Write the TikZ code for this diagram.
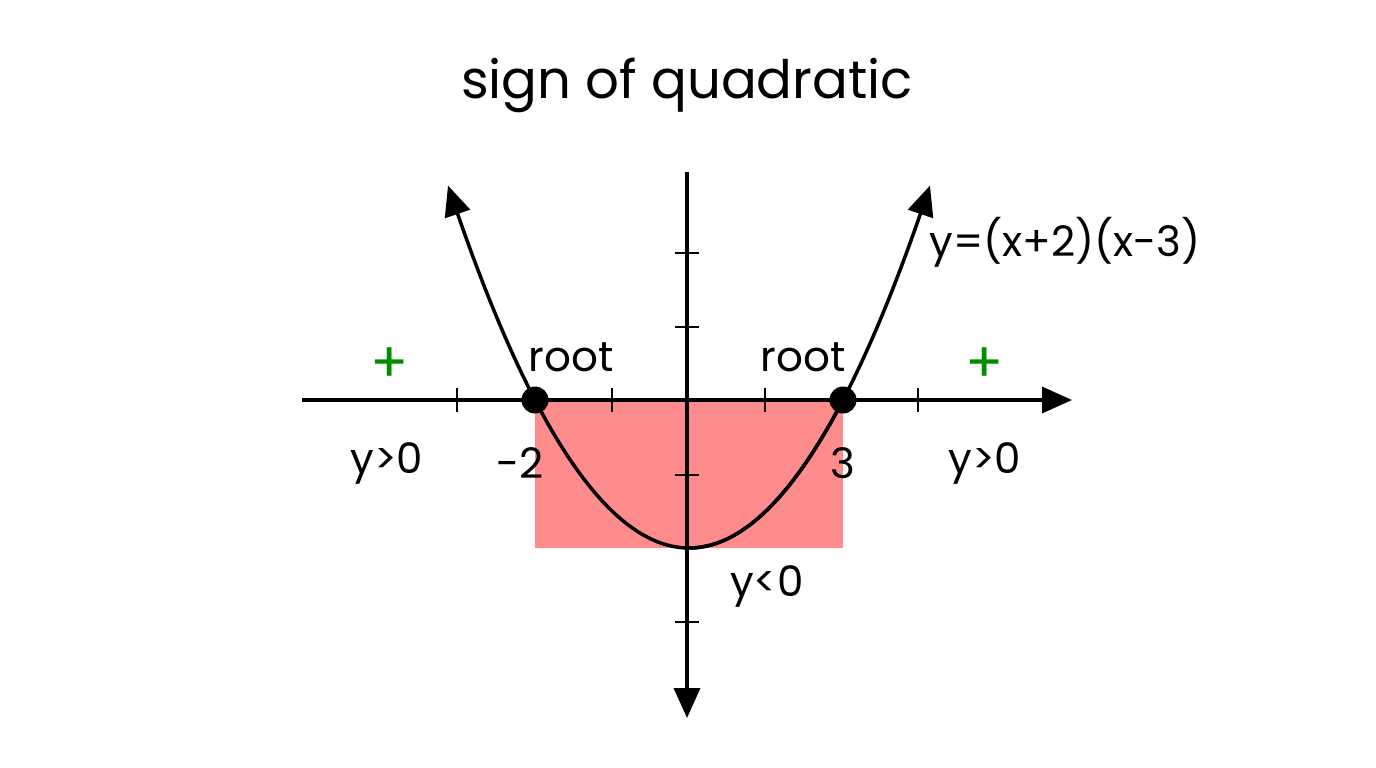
\documentclass[tikz,border=0pt]{standalone}
\usepackage{fontspec}
\setmainfont{Poppins}
\usetikzlibrary{arrows.meta}
\begin{document}
\begin{tikzpicture}[x=1pt,y=-1pt,
    lbl/.style={font=\fontsize{42}{46}\selectfont\mdseries},
    plus/.style={font=\fontsize{56}{56}\selectfont, text=green!55!black},
    dot/.style={circle,fill=black,inner sep=0pt,minimum size=27pt},
    axis/.style={line width=3.5pt,-{Triangle[length=30pt,width=26pt]}}]

            \useasboundingbox (0,0) rectangle (1376,768);
            %\draw [help lines] (0,0) grid (1376,768);

            \fill[red!45] (535,400) rectangle (843,548);

            \path   (302,400) coordinate (xl)
                    (1072,400) coordinate (xr)
                    (687,172) coordinate (yt)
                    (687,718) coordinate (yb);
            \draw[axis] (xl) -- (xr);
            \draw[axis] (yt) -- (yb);

            \foreach \t in {457,612,765,918}
                \draw[line width=2pt] (\t,388) -- (\t,412);
            \foreach \t in {253,327,475,622}
                \draw[line width=2pt] (675,\t) -- (699,\t);

            \draw[line width=3.5pt,domain=448:842,samples=80,
                  {Triangle[length=30pt,width=26pt]}-]
                plot ({\x},{400-0.00624*(\x-535)*(\x-843)});
            \draw[line width=3.5pt,domain=690:930,samples=60,
                  -{Triangle[length=30pt,width=26pt]}]
                plot ({\x},{400-0.00624*(\x-535)*(\x-843)});

            \node (rootL) [dot] at (535,400) {};
            \node (rootR) [dot] at (843,400) {};

            \node (title) [font=\fontsize{53}{58}\selectfont] at (687,85) {sign of quadratic};
            \node (rl) [lbl] at (571,357) {root};
            \node (rr) [lbl] at (803,357) {root};
            \node (pl) [plus] at (390,365) {+};
            \node (pr) [plus] at (985,365) {+};
            \node (gl) [lbl] at (387,463) {y>0};
            \node (gr) [lbl] at (985,463) {y>0};
            \node (m2) [lbl] at (520,463) {-2};
            \node (p3) [lbl] at (843,463) {3};
            \node (neg) [lbl] at (767,586) {y<0};
            \node (eq) [lbl] at (1065,242) {y=(x+2)(x-3)};
        \end{tikzpicture}
\end{document}
